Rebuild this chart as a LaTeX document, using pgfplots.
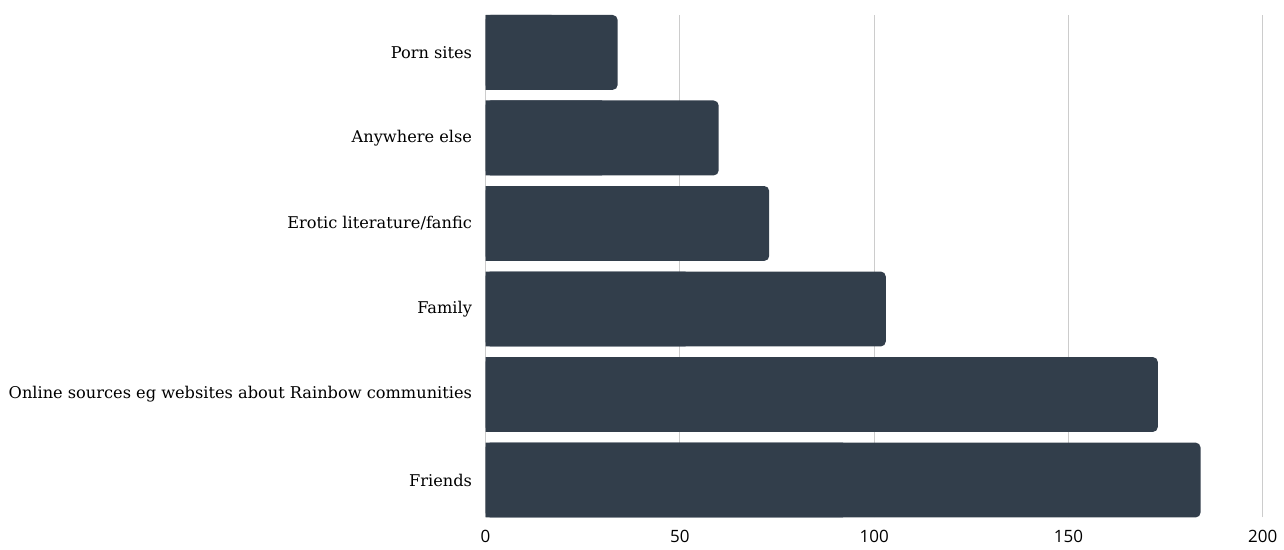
\documentclass[border=0pt]{standalone}
\usepackage{pgfplots}
\pgfplotsset{compat=1.18}
\usepackage{pgfplotstable}
\usepackage{fontspec}
\setmainfont{DejaVu Serif}
\newfontfamily\ticksans{Open Sans}
\definecolor{barcol}{RGB}{50,62,75}
\definecolor{gridcol}{RGB}{204,204,204}

% Where people learned about the topic (number of respondents)
\pgfplotstableread{
idx value
0 184
1 173
2 103
3 73
4 60
5 34
}\sources

\begin{document}
\begin{tikzpicture}
\begin{axis}[
  scale only axis, width=389pt, height=251.5pt,
  xmin=0, xmax=200, ymin=-0.438, ymax=5.438,
  xtick={0,50,100,150,200},
  ytick={0,...,5},
  yticklabels={Friends, Online sources eg websites about Rainbow communities, Family, Erotic literature/fanfic, Anywhere else, Porn sites},
  xmajorgrids, major grid style={gridcol, line width=0.5pt},
  axis line style={draw=none}, tick style={draw=none},
  /pgf/number format/assume math mode=true,
  xticklabel style={font=\ticksans\fontsize{8.5}{10}\selectfont, yshift=-3pt},
  yticklabel style={font=\fontsize{8.1}{10}\selectfont, xshift=1pt},
  xbar, bar width=0.876, bar shift=0pt,
]
  \addplot[fill=barcol, draw=none, rounded corners=2.5pt] table[x=value, y=idx] {\sources};
  % square off the left end of each bar
  \addplot[fill=barcol, draw=none] table[x expr=\thisrow{value}/2, y=idx] {\sources};
\end{axis}
\path[use as bounding box] (-243pt,-13.5pt) rectangle (399pt,259pt);
\end{tikzpicture}
\end{document}
